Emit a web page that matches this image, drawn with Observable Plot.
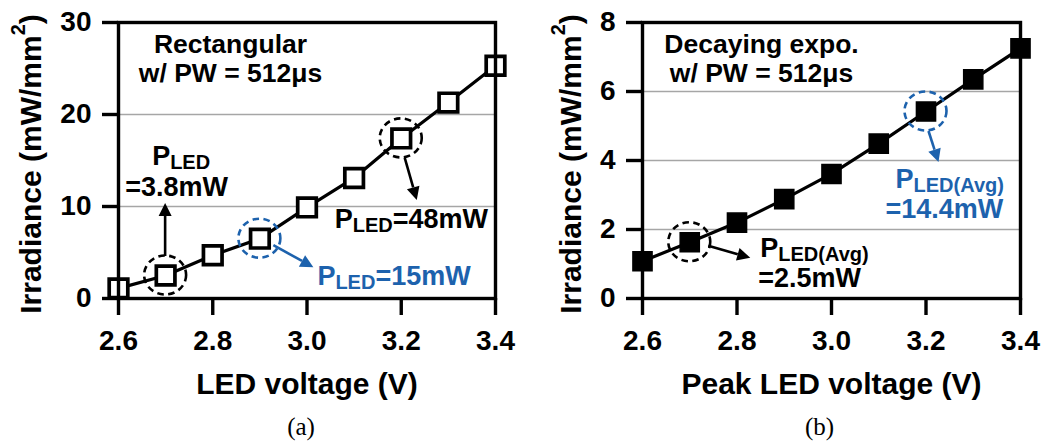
<!DOCTYPE html>
<html>
<head>
<meta charset="utf-8">
<script src="https://cdn.jsdelivr.net/npm/d3@7"></script>
<script src="https://cdn.jsdelivr.net/npm/@observablehq/plot@0.6"></script>
<style>
  body { margin: 0; background: #fff; }
  #fig { position: relative; width: 1049px; height: 441px; overflow: hidden; background: #fff; }
  #fig > svg { position: absolute; top: 0; }
</style>
</head>
<body>
<div id="fig"></div>
<script>
// LED drive voltage sweep (V)
const voltages = [2.6, 2.7, 2.8, 2.9, 3.0, 3.1, 3.2, 3.3, 3.4];
// Irradiance (mW/mm²) with a rectangular pulse, PW = 512 µs
const irradianceRect = [1.1, 2.5, 4.7, 6.5, 9.9, 13.1, 17.4, 21.3, 25.3];
// Irradiance (mW/mm²) with a decaying-exponential pulse, PW = 512 µs
const irradianceDecay = [1.08, 1.63, 2.2, 2.88, 3.61, 4.49, 5.42, 6.35, 7.25];

const xTicks = [2.6, 2.8, 3.0, 3.2, 3.4];
const yTicksRect = [0, 10, 20, 30];
const yTicksDecay = [0, 2, 4, 6, 8];

const BLUE = "#1d62ad";
const SANS = "Liberation Sans, Arial, Helvetica, sans-serif";
const SERIF = "Liberation Serif, Times New Roman, serif";

// Dashed ring + arrow + label around a selected measurement, placed in pixel
// offsets from the point that the scales give for it.
function callouts(list, series) {
  return (index, scales) => {
    const g = d3.create("svg:g")
      .attr("font-family", SANS).attr("font-weight", "bold").attr("text-anchor", "start");
    for (const c of list) {
      const i = voltages.indexOf(c.v);
      const px = scales.x(voltages[i]);
      const py = scales.y(series[i]);
      g.append("ellipse")
        .attr("cx", px).attr("cy", py)
        .attr("rx", 21).attr("ry", 19.5)
        .attr("fill", "none").attr("stroke", c.color)
        .attr("stroke-width", 2.6).attr("stroke-dasharray", "6.5 4.5");
      const [x1, y1, x2, y2] = [px + c.arrow[0], py + c.arrow[1], px + c.arrow[2], py + c.arrow[3]];
      const a = Math.atan2(y2 - y1, x2 - x1), L = 13, W = 6.5;
      const bx = x2 - L * Math.cos(a), by = y2 - L * Math.sin(a);
      g.append("line")
        .attr("x1", x1).attr("y1", y1).attr("x2", bx).attr("y2", by)
        .attr("stroke", c.color).attr("stroke-width", 2.6);
      g.append("path")
        .attr("d", `M${x2},${y2}L${bx + W * Math.sin(a)},${by - W * Math.cos(a)}L${bx - W * Math.sin(a)},${by + W * Math.cos(a)}Z`)
        .attr("fill", c.color);
      for (const ln of c.lines) {
        const t = g.append("text")
          .attr("x", px + ln.dx).attr("y", py + ln.dy + 10)
          .attr("text-anchor", "start")
          .attr("fill", c.color).attr("font-size", 27);
        let shifted = false;
        for (const [s, sub] of ln.parts) {
          const sp = t.append("tspan").text(s);
          if (sub) { sp.attr("font-size", 20).attr("dy", 4); shifted = true; }
          else if (shifted) { sp.attr("dy", -4); shifted = false; }
        }
      }
    }
    return g.node();
  };
}

// Rotated y-axis title with a true superscript
function yTitle(dx) {
  return (index, scales, values, dims) => {
    const cy = (dims.marginTop + dims.height - dims.marginBottom) / 2 + 4;
    const t = d3.create("svg:text")
      .attr("transform", `translate(${dims.marginLeft + dx},${cy}) rotate(-90)`)
      .attr("text-anchor", "middle").attr("dominant-baseline", "central")
      .attr("font-family", SANS).attr("font-weight", "bold").attr("font-size", 30);
    t.append("tspan").text("Irradiance (mW/mm");
    t.append("tspan").text("2").attr("font-size", 20).attr("dy", -12);
    t.append("tspan").text(")").attr("dy", 12);
    return t.node();
  };
}

function panel({series, yDomain, yTicks, grid, filled, title, titleDx, xLabel, caption, captionDx, yTitleDx, notes, width}) {
  const rows = voltages.map((v, i) => ({v, irr: series[i]}));
  return Plot.plot({
    width, height: 441,
    marginLeft: 118, marginRight: 29, marginTop: 22, marginBottom: 143,
    style: {fontFamily: SANS, fontWeight: "bold", fontSize: "28px", color: "#000", background: "transparent"},
    x: {domain: [2.6, 3.4], label: null},
    y: {domain: yDomain, label: null},
    marks: [
      Plot.gridY(grid, {stroke: "#a6a6a6", strokeOpacity: 1, strokeWidth: 1.3}),
      Plot.line(rows, {x: "v", y: "irr", stroke: "#000", strokeWidth: 3.2}),
      Plot.dot(rows, {x: "v", y: "irr", symbol: "square", r: filled ? 10.8 : 10.5,
        fill: filled ? "#000" : "#fff", stroke: "#000", strokeWidth: filled ? 1.5 : 3.7}),
      Plot.frame({stroke: "#000", strokeWidth: 3.4}),
      Plot.axisX({ticks: xTicks, tickFormat: d3.format(".1f"), tickSize: 17, tickPadding: 15,
        strokeWidth: 3.4, fontSize: 28, fontWeight: "bold", label: null}),
      Plot.axisY({ticks: yTicks, tickFormat: d3.format("d"), tickSize: 16, tickPadding: 11,
        strokeWidth: 3.4, fontSize: 28, fontWeight: "bold", label: null}),
      Plot.text([title], {frameAnchor: "top-left", dx: titleDx, dy: 36, text: d => d,
        fontSize: 26.5, fontWeight: "bold", lineHeight: 1.1, textAnchor: "middle", lineAnchor: "middle"}),
      Plot.text([xLabel], {frameAnchor: "bottom", dy: 86, text: d => d,
        fontSize: 30, fontWeight: "bold", lineAnchor: "middle"}),
      Plot.text([caption], {frameAnchor: "bottom", dx: captionDx, dy: 128, text: d => d,
        fontSize: 25, fontWeight: "normal", fontFamily: SERIF, lineAnchor: "middle"}),
      yTitle(yTitleDx),
      callouts(notes, series)
    ]
  });
}

const left = panel({
  width: 524,
  series: irradianceRect, yDomain: [0, 30], yTicks: yTicksRect, grid: [10, 20], filled: false,
  title: "Rectangular\nw/ PW = 512μs", titleDx: 112,
  xLabel: "LED voltage (V)", caption: "(a)", captionDx: -6, yTitleDx: -88,
  notes: [
    {v: 2.7, color: "#000", arrow: [0, -19, 0, -72],
     lines: [{dx: -13, dy: -120, parts: [["P", false], ["LED", true]]},
             {dx: -40, dy: -89, parts: [["=3.8mW", false]]}]},
    {v: 2.9, color: BLUE, arrow: [14, 7, 54, 29],
     lines: [{dx: 58, dy: 37, parts: [["P", false], ["LED", true], ["=15mW", false]]}]},
    {v: 3.2, color: "#000", arrow: [4, 20, 16, 62],
     lines: [{dx: -66, dy: 80, parts: [["P", false], ["LED", true], ["=48mW", false]]}]}
  ]
});

const right = panel({
  width: 525,
  series: irradianceDecay, yDomain: [0, 8], yTicks: yTicksDecay, grid: [2, 4, 6], filled: true,
  title: "Decaying expo.\nw/ PW = 512μs", titleDx: 119,
  xLabel: "Peak LED voltage (V)", caption: "(b)", captionDx: -12, yTitleDx: -72,
  notes: [
    {v: 2.7, color: "#000", arrow: [19, 4, 61, 16],
     lines: [{dx: 71, dy: 5, parts: [["P", false], ["LED(Avg)", true]]},
             {dx: 69, dy: 35, parts: [["=2.5mW", false]]}]},
    {v: 3.2, color: BLUE, arrow: [3, 20, 13, 51],
     lines: [{dx: -30, dy: 67, parts: [["P", false], ["LED(Avg)", true]]},
             {dx: -40, dy: 97, parts: [["=14.4mW", false]]}]}
  ]
});

left.style.left = "0px";
right.style.left = "524px";
const fig = document.getElementById("fig");
fig.append(left, right);
</script>
</body>
</html>
